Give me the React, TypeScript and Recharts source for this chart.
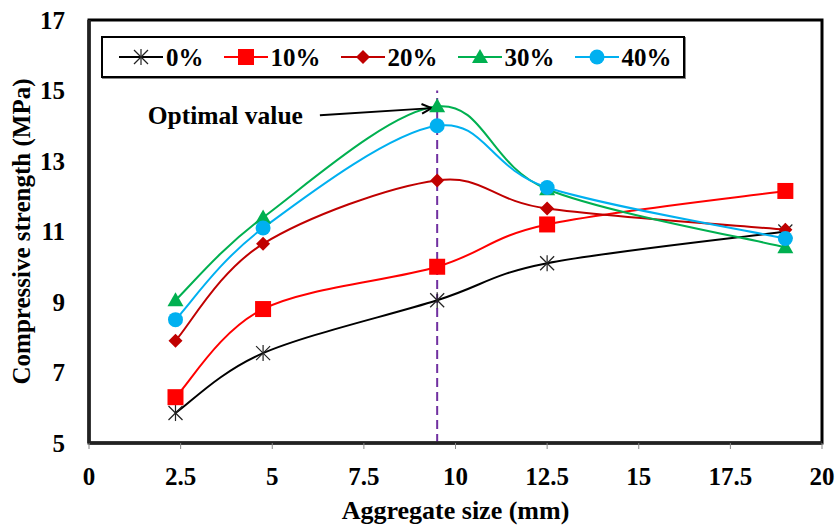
import React from "react";
import {
  LineChart,
  Line,
  XAxis,
  YAxis,
  ReferenceLine,
  ReferenceArea,
} from "recharts";

// aggregate size (mm) and compressive strength (MPa) per replacement level
const sizes = [2.36, 4.75, 9.5, 12.5, 19];
const cs0 = [5.85, 7.55, 9.05, 10.1, 11.0];
const cs10 = [6.3, 8.8, 10.0, 11.2, 12.15];
const cs20 = [7.9, 10.65, 12.45, 11.65, 11.05];
const cs30 = [9.05, 11.4, 14.55, 12.2, 10.55];
const cs40 = [8.5, 11.1, 14.0, 12.25, 10.8];
const seriesNames = ["0%", "10%", "20%", "30%", "40%"];
const xTicks = [0, 2.5, 5, 7.5, 10, 12.5, 15, 17.5, 20];
const yTicks = [5, 7, 9, 11, 13, 15, 17];
const optimalSize = 9.5;

const FONT = '"Liberation Serif", "Times New Roman", serif';

type MarkerKind = "star" | "square" | "diamond" | "triangle" | "circle";

const series: { key: string; name: string; values: number[]; color: string; marker: MarkerKind }[] = [
  { key: "p0", name: seriesNames[0], values: cs0, color: "#000000", marker: "star" },
  { key: "p10", name: seriesNames[1], values: cs10, color: "#ff0000", marker: "square" },
  { key: "p20", name: seriesNames[2], values: cs20, color: "#c00000", marker: "diamond" },
  { key: "p30", name: seriesNames[3], values: cs30, color: "#00b050", marker: "triangle" },
  { key: "p40", name: seriesNames[4], values: cs40, color: "#00b0f0", marker: "circle" },
];

const data = sizes.map((x, i) => {
  const row: Record<string, number> = { x };
  series.forEach((s) => (row[s.key] = s.values[i]));
  return row;
});

// Excel-style smoothed line (Catmull-Rom as cubic beziers)
// eslint-disable-next-line @typescript-eslint/no-explicit-any
function excelSmooth(context: any) {
  let pts: number[][] = [];
  return {
    areaStart() {},
    areaEnd() {},
    lineStart() {
      pts = [];
    },
    point(x: number, y: number) {
      pts.push([+x, +y]);
    },
    lineEnd() {
      const n = pts.length;
      if (!n) return;
      context.moveTo(pts[0][0], pts[0][1]);
      for (let i = 0; i < n - 1; i++) {
        const p0 = pts[Math.max(i - 1, 0)];
        const p1 = pts[i];
        const p2 = pts[i + 1];
        const p3 = pts[Math.min(i + 2, n - 1)];
        context.bezierCurveTo(
          p1[0] + (p2[0] - p0[0]) / 6,
          p1[1] + (p2[1] - p0[1]) / 6,
          p2[0] - (p3[0] - p1[0]) / 6,
          p2[1] - (p3[1] - p1[1]) / 6,
          p2[0],
          p2[1]
        );
      }
    },
  };
}

function Marker({ kind, cx, cy, color }: { kind: MarkerKind; cx: number; cy: number; color: string }) {
  if (cx == null || cy == null) return null;
  switch (kind) {
    case "star":
      return (
        <g stroke="#222" strokeWidth={1.2}>
          <line x1={cx} y1={cy - 8} x2={cx} y2={cy + 8} />
          <line x1={cx - 7} y1={cy - 7} x2={cx + 7} y2={cy + 7} />
          <line x1={cx - 7} y1={cy + 7} x2={cx + 7} y2={cy - 7} />
        </g>
      );
    case "square":
      return <rect x={cx - 8} y={cy - 8} width={16} height={16} fill={color} />;
    case "diamond":
      return (
        <polygon
          points={`${cx},${cy - 7} ${cx + 7},${cy} ${cx},${cy + 7} ${cx - 7},${cy}`}
          fill={color}
        />
      );
    case "triangle":
      return (
        <polygon
          points={`${cx},${cy - 8} ${cx + 8},${cy + 6} ${cx - 8},${cy + 6}`}
          fill={color}
        />
      );
    default:
      return <circle cx={cx} cy={cy} r={7.5} fill={color} />;
  }
}

// eslint-disable-next-line @typescript-eslint/no-explicit-any
function Arrow(props: any) {
  const { x1, y1, x2, y2 } = props;
  const ang = Math.atan2(y2 - y1, x2 - x1);
  const len = 11;
  const a1 = ang + Math.PI - 0.45;
  const a2 = ang + Math.PI + 0.45;
  return (
    <g>
      <text
        x={x1 - 17}
        y={y1 + 9}
        textAnchor="end"
        fontFamily={FONT}
        fontWeight="bold"
        fontSize={25.5}
        fill="#000"
      >
        Optimal value
      </text>
      <line x1={x1} y1={y1} x2={x2} y2={y2} stroke="#000" strokeWidth={2} />
      <polyline
        points={`${x2 + len * Math.cos(a1)},${y2 + len * Math.sin(a1)} ${x2},${y2} ${x2 + len * Math.cos(a2)},${y2 + len * Math.sin(a2)}`}
        fill="none"
        stroke="#000"
        strokeWidth={2}
      />
    </g>
  );
}

const tickStyle = { fill: "#000", fontSize: 25, fontWeight: "bold", fontFamily: FONT };

export default function App() {
  return (
    <div style={{ position: "absolute", left: 0, top: 0, width: 835, height: 526, background: "#fff" }}>
      <LineChart
        width={835}
        height={526}
        data={data}
        margin={{ top: 20, right: 13, left: 0, bottom: 0 }}
      >
        <XAxis
          dataKey="x"
          type="number"
          domain={[0, 20]}
          ticks={xTicks}
          height={83}
          axisLine={{ stroke: "#222", strokeWidth: 3.5 }}
          tickLine={{ stroke: "#888", strokeWidth: 1 }}
          tickSize={6}
          tickMargin={18}
          tick={tickStyle}
          label={{
            value: "Aggregate size (mm)",
            position: "insideBottom",
            offset: 7,
            style: { fill: "#000", fontSize: 26, fontWeight: "bold", fontFamily: FONT },
          }}
        />
        <YAxis
          type="number"
          domain={[5, 17]}
          ticks={yTicks}
          width={89}
          axisLine={{ stroke: "#222", strokeWidth: 3.5 }}
          tickLine={false}
          tickSize={6}
          tickMargin={18}
          tick={tickStyle}
          label={{
            value: "Compressive strength (MPa)",
            angle: -90,
            position: "insideLeft",
            offset: 21,
            style: { fill: "#000", fontSize: 25, fontWeight: "bold", fontFamily: FONT, textAnchor: "middle" },
          }}
        />
        <ReferenceArea
          x1={0}
          x2={20}
          y1={5}
          y2={17}
          fill="none"
          stroke="#000"
          strokeWidth={3}
          ifOverflow="visible"
        />
        {/* light core of the double-ruled axes */}
        <ReferenceLine x={0} stroke="#999" strokeWidth={1} ifOverflow="visible" />
        <ReferenceLine y={5} stroke="#999" strokeWidth={1} ifOverflow="visible" />
        <ReferenceLine
          segment={[
            { x: optimalSize, y: 5 },
            { x: optimalSize, y: 15 },
          ]}
          stroke="#7030a0"
          strokeWidth={2}
          strokeDasharray="9 5"
        />
        {series.map((s) => (
          <Line
            key={s.key}
            dataKey={s.key}
            name={s.name}
            type={excelSmooth as never}
            stroke={s.color}
            strokeWidth={2}
            isAnimationActive={false}
            // eslint-disable-next-line @typescript-eslint/no-explicit-any
            dot={(p: any) => (
              <Marker key={`${s.key}-${p.index}`} kind={s.marker} cx={p.cx} cy={p.cy} color={s.color} />
            )}
            activeDot={false}
          />
        ))}
        <ReferenceLine
          segment={[
            { x: 6.3, y: 14.3 },
            { x: 9.35, y: 14.5 },
          ]}
          shape={Arrow}
          ifOverflow="visible"
        />
      </LineChart>

      <div
        style={{
          position: "absolute",
          left: 101,
          top: 36,
          width: 584,
          height: 42,
          boxSizing: "border-box",
          border: "2.5px solid #000",
          boxShadow: "1px 1px 0 #888",
          background: "#fff",
          display: "flex",
          alignItems: "center",
          paddingLeft: 16,
          fontFamily: FONT,
          fontWeight: "bold",
          fontSize: 25,
          color: "#000",
        }}
      >
        {series.map((s) => (
          <div key={s.key} style={{ display: "flex", alignItems: "center", marginRight: 20 }}>
            <svg width={44} height={20} style={{ display: "block" }}>
              <line x1={0} y1={10} x2={44} y2={10} stroke={s.color} strokeWidth={2} />
              <Marker kind={s.marker} cx={22} cy={10} color={s.color} />
            </svg>
            <span style={{ marginLeft: 3, lineHeight: 1 }}>{s.name}</span>
          </div>
        ))}
      </div>
    </div>
  );
}
